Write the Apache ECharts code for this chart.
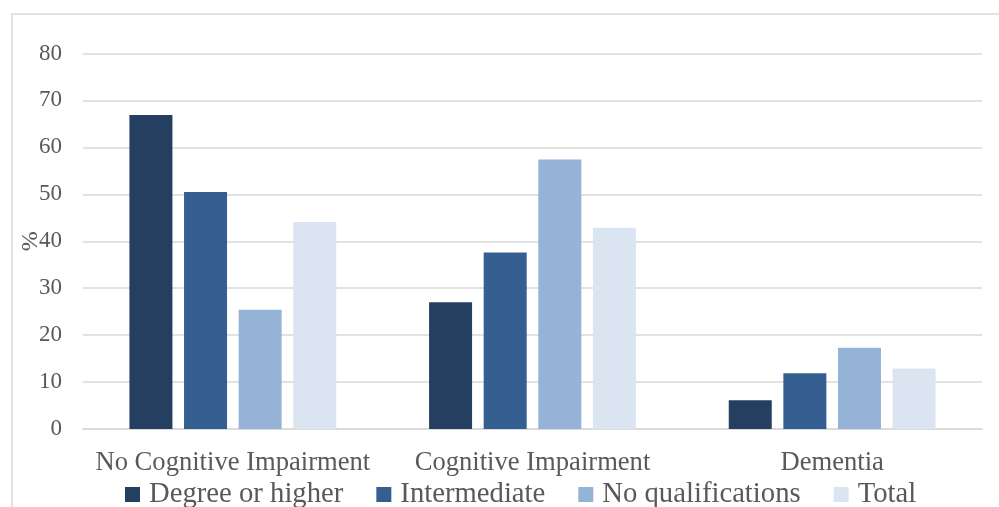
<!DOCTYPE html>
<html>
<head>
<meta charset="utf-8">
<script src="https://cdn.jsdelivr.net/npm/echarts@6/dist/echarts.min.js"></script>
<style>html,body{margin:0;padding:0;background:#fff}#c{width:999px;height:507px}</style>
</head>
<body>
<div id="c"></div>
<script>
var categories = ['No Cognitive Impairment', 'Cognitive Impairment', 'Dementia'];
var seriesNames = ['Degree or higher', 'Intermediate', 'No qualifications', 'Total'];
var degree = [66.9, 27.0, 6.1];
var intermediate = [50.5, 37.6, 11.9];
var noQualifications = [25.4, 57.4, 17.3];
var total = [44.1, 42.9, 12.9];
var colors = ['#243F60', '#365F91', '#95B3D7', '#DBE5F1'];
var yTicks = [0, 10, 20, 30, 40, 50, 60, 70, 80];

var font = '"Liberation Serif", "Times New Roman", serif';
var chart = echarts.init(document.getElementById('c'), null, {renderer: 'canvas'});
var dataSets = [degree, intermediate, noQualifications, total];
chart.setOption({
  animation: false,
  graphic: [{
    type: 'rect', left: 9.5, top: 11.5, silent: true,
    shape: {width: 1100, height: 600},
    style: {fill: 'none', stroke: '#d9d9d9', lineWidth: 1.5}
  }],
  grid: {left: 83, right: 17, top: 53.5, bottom: 78, containLabel: false},
  legend: {
    left: 120, top: 475,
    itemWidth: 15, itemHeight: 15, itemGap: 33,
    icon: 'rect',
    textStyle: {fontFamily: font, fontSize: 28.7, color: '#595959', padding: [0, 0, 0, 4]},
    data: seriesNames
  },
  xAxis: {
    type: 'category', data: categories,
    axisLine: {lineStyle: {color: '#d9d9d9', width: 1.5}},
    axisTick: {show: false},
    axisLabel: {fontFamily: font, fontSize: 26.6, color: '#595959', margin: 21, interval: 0}
  },
  yAxis: {
    type: 'value', min: 0, max: yTicks[yTicks.length - 1], interval: 10,
    name: '%', nameLocation: 'middle', nameRotate: 90, nameGap: 40,
    nameMoveOverlap: false,
    nameTextStyle: {fontFamily: font, fontSize: 24, color: '#595959'},
    axisLine: {show: false}, axisTick: {show: false},
    axisLabel: {fontFamily: font, fontSize: 23, color: '#595959', margin: 21},
    splitLine: {lineStyle: {color: '#d9d9d9', width: 1.5}}
  },
  series: seriesNames.map(function (n, i) {
    return {
      name: n, type: 'bar', data: dataSets[i],
      barWidth: 43, barGap: '27%',
      itemStyle: {color: colors[i]}
    };
  })
});
</script>
</body>
</html>
